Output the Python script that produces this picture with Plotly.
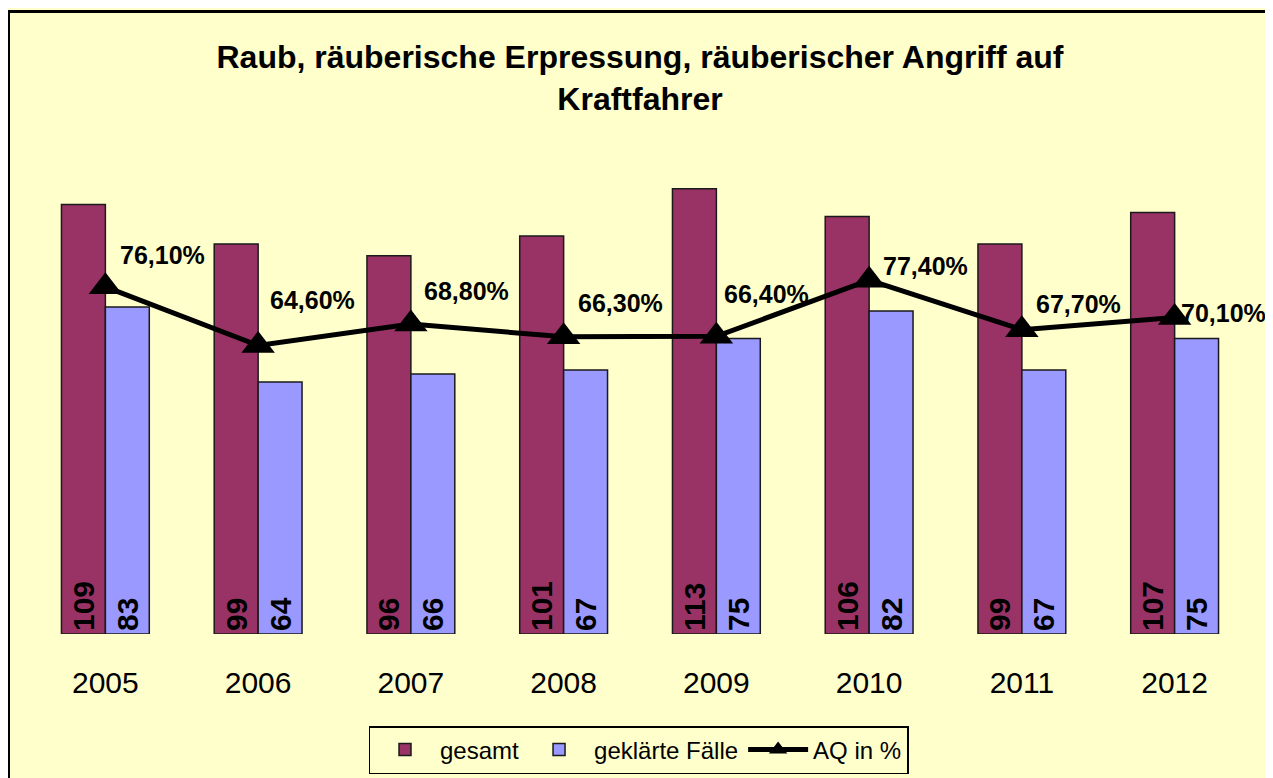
import plotly.graph_objects as go

years = ["2005", "2006", "2007", "2008", "2009", "2010", "2011", "2012"]
gesamt = [109, 99, 96, 101, 113, 106, 99, 107]
geklaert = [83, 64, 66, 67, 75, 82, 67, 75]
aq = [76.1, 64.6, 68.8, 66.3, 66.4, 77.4, 67.7, 70.1]
aq_labels = ["76,10%", "64,60%", "68,80%", "66,30%", "66,40%", "77,40%", "67,70%", "70,10%"]

# label offsets in pixels (style only)
lab_dx = [57, 54, 56, 57, 50, 56, 57, 49]
lab_dy = [32, 45, 33, 34, 42, 14, 26, 4]

FONT = "Arial, Liberation Sans, sans-serif"
BG = "#FFFFCC"

fig = go.Figure()
fig.add_trace(go.Bar(
    x=years, y=gesamt, name="gesamt",
    marker=dict(color="#993366", line=dict(color="#1a1a1a", width=1.5)),
    text=[str(v) for v in gesamt], textposition="inside", insidetextanchor="start",
    textangle=-90, constraintext="none",
    textfont=dict(family=FONT, size=30, color="black", weight="bold"),
))
fig.add_trace(go.Bar(
    x=years, y=geklaert, name="geklärte Fälle",
    marker=dict(color="#9999FF", line=dict(color="#1a1a1a", width=1.5)),
    text=[str(v) for v in geklaert], textposition="inside", insidetextanchor="start",
    textangle=-90, constraintext="none",
    textfont=dict(family=FONT, size=30, color="black", weight="bold"),
))
fig.add_trace(go.Scatter(
    x=years, y=aq, name="AQ in %", yaxis="y2", mode="lines+markers",
    line=dict(color="black", width=5),
    marker=dict(symbol="triangle-up", size=29, color="black"),
))

for i, (v, t, dx, dy) in enumerate(zip(aq, aq_labels, lab_dx, lab_dy)):
    fig.add_annotation(x=i, y=v, xref="x", yref="y2", text=t, showarrow=False,
                       xshift=dx, yshift=dy,
                       font=dict(family=FONT, size=25, color="black", weight="bold"))

W, H = 1265, 770
L, R, T, B = 21, 22, 132, 144
pw, ph = W - L - R, H - T - B


def px_x(p):
    return (p - L) / pw


def px_y(p):
    return (H - B - p) / ph


fig.add_shape(type="rect", xref="paper", yref="paper",
              x0=px_x(0.5), x1=px_x(1260.5), y0=px_y(790), y1=px_y(3.5),
              line=dict(color="black", width=3), layer="above")

fig.update_layout(
    width=W, height=H,
    margin=dict(l=L, r=R, t=T, b=B, autoexpand=False),
    paper_bgcolor=BG, plot_bgcolor=BG,
    barmode="group", bargap=0.425, bargroupgap=0,
    font=dict(family=FONT, color="black"),
    title=dict(text="Raub, räuberische Erpressung, räuberischer Angriff auf<br>Kraftfahrer",
               x=px_x(632), xref="paper", xanchor="center",
               y=1 - 60 / H, yanchor="middle",
               font=dict(family=FONT, size=32, color="black", weight="bold")),
    xaxis=dict(type="category", showgrid=False, zeroline=False, showline=False,
               ticks="", tickfont=dict(family=FONT, size=30, color="black"),
               ticklabelstandoff=28, range=[-0.5, 7.5]),
    yaxis=dict(range=[0, 125.4], visible=False, showgrid=False, zeroline=False),
    yaxis2=dict(range=[8.0, 104.9], overlaying="y", side="right", visible=False,
                showgrid=False, zeroline=False),
    showlegend=True,
    legend=dict(orientation="h", x=px_x(630.5), xanchor="center",
                y=px_y(742), yanchor="middle",
                bgcolor=BG, bordercolor="black", borderwidth=1.5,
                font=dict(family=FONT, size=24, color="black"),
                itemwidth=60, traceorder="normal"),
)

fig.write_html("out.html")
